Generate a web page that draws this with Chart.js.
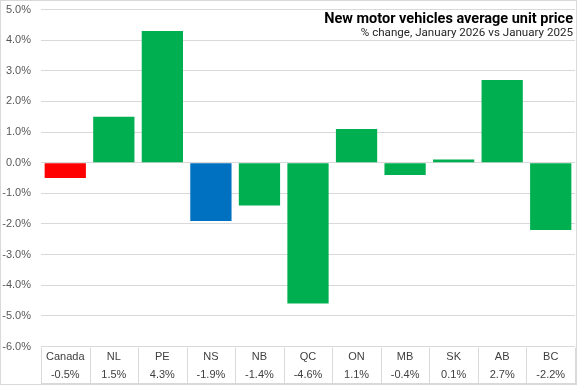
<!DOCTYPE html>
<html>
<head>
<meta charset="utf-8">
<script src="https://cdn.jsdelivr.net/npm/chart.js@4"></script>
<style>
html,body{margin:0;padding:0;background:#fff;}
#wrap{position:relative;width:577px;height:385px;}
</style>
</head>
<body>
<div id="wrap"><canvas id="c" width="577" height="385"></canvas></div>
<script>
const categories = ["Canada","NL","PE","NS","NB","QC","ON","MB","SK","AB","BC"];
const values = [-0.5, 1.5, 4.3, -1.9, -1.4, -4.6, 1.1, -0.4, 0.1, 2.7, -2.2];
const barColors = ["#FF0000","#00B050","#00B050","#0070C0","#00B050","#00B050","#00B050","#00B050","#00B050","#00B050","#00B050"];
const titleText = "New motor vehicles average unit price";
const subtitleText = "% change, January 2026 vs January 2025";
const yMin = -6, yMax = 5;

const GRID = "#d9d9d9";
const TXT = "#595959";

const tablePlugin = {
  id: "tablePlugin",
  afterDraw(chart) {
    const ctx = chart.ctx;
    const ca = chart.chartArea;
    const xs = chart.scales.x;
    const n = categories.length;
    const colW = (ca.right - ca.left) / n;
    const top = Math.round(ca.bottom) + 0.5;
    const bottom = 383.5;
    ctx.save();
    ctx.strokeStyle = GRID;
    ctx.lineWidth = 1;
    ctx.beginPath();
    for (let i = 0; i <= n; i++) {
      const x = Math.round(ca.left + i * colW) + 0.5;
      ctx.moveTo(x, top);
      ctx.lineTo(x, bottom);
    }
    ctx.moveTo(ca.left, bottom);
    ctx.lineTo(ca.right + 1, bottom);
    ctx.stroke();
    ctx.fillStyle = "#404040";
    ctx.font = "11px 'Liberation Sans', Arial, sans-serif";
    ctx.textAlign = "center";
    ctx.textBaseline = "middle";
    for (let i = 0; i < n; i++) {
      const cx = xs.getPixelForValue(i);
      ctx.fillText(categories[i], cx, top + 9);
      ctx.fillText(values[i].toFixed(1) + "%", cx, top + 27.5);
    }
    ctx.strokeStyle = GRID;
    ctx.strokeRect(0.5, 0.5, 576, 384);
    ctx.textAlign = "right";
    ctx.textBaseline = "alphabetic";
    ctx.fillStyle = "#000";
    ctx.font = "bold 14.5px Roboto, 'Liberation Sans', sans-serif";
    ctx.fillText(titleText, 573, 23);
    ctx.fillStyle = "#262626";
    ctx.font = "11.6px Roboto, 'Liberation Sans', sans-serif";
    ctx.fillText(subtitleText, 573, 35.5);
    ctx.restore();
  }
};

new Chart(document.getElementById("c"), {
  type: "bar",
  data: {
    labels: categories,
    datasets: [{
      data: values,
      backgroundColor: barColors,
      borderWidth: 0,
      categoryPercentage: 1.0,
      barPercentage: 0.85
    }]
  },
  options: {
    responsive: false,
    animation: false,
    devicePixelRatio: 1,
    layout: { autoPadding: false, padding: { top: 9.5, right: 2, bottom: 38.5, left: 0 } },
    plugins: { legend: { display: false }, tooltip: { enabled: false }, title: { display: false } },
    scales: {
      x: { display: false },
      y: {
        min: yMin, max: yMax,
        afterFit(scale) { scale.width = 41; scale.paddingTop = 0; scale.paddingBottom = 0; },
        border: { display: false },
        grid: { color: GRID, drawTicks: false, lineWidth: 1 },
        ticks: {
          stepSize: 1,
          padding: 10,
          color: TXT,
          font: { family: "'Liberation Sans', Arial, sans-serif", size: 11 },
          callback: (v) => v.toFixed(1) + "%"
        }
      }
    }
  },
  plugins: [tablePlugin]
});
</script>
</body>
</html>
